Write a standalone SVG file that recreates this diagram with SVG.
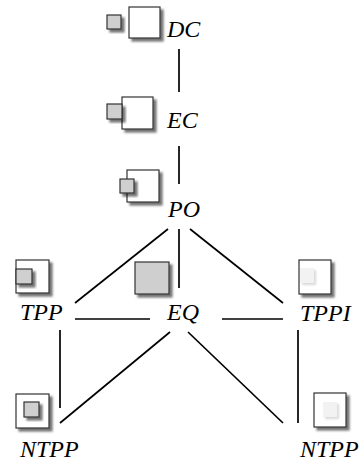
<svg xmlns="http://www.w3.org/2000/svg" width="359" height="462" viewBox="0 0 359 462">
<defs>
<filter id="sh" x="-20%" y="-20%" width="150%" height="150%">
<feDropShadow dx="3" dy="3" stdDeviation="1.3" flood-color="#000" flood-opacity="0.55"/>
</filter>
<filter id="shl" x="-20%" y="-20%" width="150%" height="150%">
<feDropShadow dx="2" dy="2" stdDeviation="1.2" flood-color="#000" flood-opacity="0.15"/>
</filter>
</defs>
<style>
.big{fill:#fff;stroke:#333;stroke-width:1.2;filter:url(#sh)}
.sm{fill:#cfcfcf;stroke:#333;stroke-width:1.2;filter:url(#sh)}
.lt{fill:#f2f2f2;stroke:none;filter:url(#shl)}
.lbl{font-family:"Liberation Serif",serif;font-style:italic;font-size:24px;fill:#000}
.c line{stroke:#000;stroke-width:1.7}
</style>
<g class="c" id="connectors">
<line x1="179" y1="49" x2="179" y2="92"/>
<line x1="179" y1="146" x2="179" y2="184"/>
<line x1="179" y1="229" x2="179" y2="288"/>
<line x1="168" y1="229" x2="75" y2="303"/>
<line x1="190" y1="229" x2="283" y2="303"/>
<line x1="75" y1="319" x2="150" y2="319"/>
<line x1="222" y1="319" x2="283" y2="319"/>
<line x1="60" y1="330" x2="60" y2="408"/>
<line x1="298" y1="330" x2="298" y2="423"/>
<line x1="170" y1="332" x2="60" y2="423"/>
<line x1="188" y1="332" x2="283" y2="423"/>
</g>
<g id="DC">
<rect class="sm" x="107" y="15" width="14" height="14"/>
<rect class="big" x="129" y="7" width="31" height="31"/>
<text class="lbl" x="167" y="37">DC</text>
</g>
<g id="EC">
<rect class="big" x="122" y="97" width="31" height="32"/>
<rect class="sm" x="107" y="104" width="15" height="15"/>
<text class="lbl" x="167" y="128">EC</text>
</g>
<g id="PO">
<rect class="big" x="127" y="170" width="32" height="32"/>
<rect class="sm" x="120" y="179" width="14" height="14"/>
<text class="lbl" x="168" y="217">PO</text>
</g>
<g id="TPP">
<rect class="big" x="16" y="260" width="33" height="33"/>
<rect class="sm" x="16" y="269" width="16" height="15"/>
<text class="lbl" x="20" y="320">TPP</text>
</g>
<g id="EQ">
<rect class="sm" x="135" y="262" width="34" height="32"/>
<text class="lbl" x="167" y="320">EQ</text>
</g>
<g id="TPPI">
<rect class="big" x="299" y="260" width="32" height="34"/>
<rect class="lt" x="300" y="268" width="14" height="15"/>
<text class="lbl" x="300" y="321">TPPI</text>
</g>
<g id="NTPP">
<rect class="big" x="16" y="394" width="33" height="34"/>
<rect class="sm" x="24" y="402" width="15" height="15"/>
<text class="lbl" x="20" y="457">NTPP</text>
</g>
<g id="NTPPI">
<rect class="big" x="314" y="393" width="32" height="34"/>
<rect class="lt" x="323" y="402" width="14" height="15"/>
<text class="lbl" x="300" y="457">NTPP</text>
</g>
</svg>
